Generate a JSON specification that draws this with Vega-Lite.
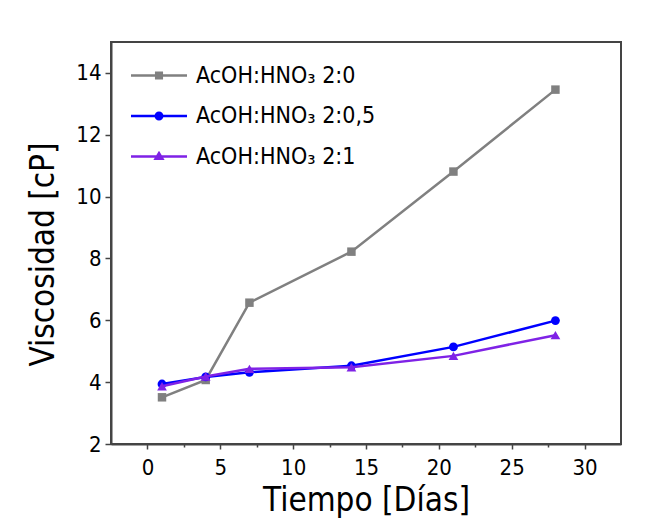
{
  "$schema": "https://vega.github.io/schema/vega-lite/v6.json",
  "width": 510,
  "height": 402,
  "autosize": {"type": "none"},
  "padding": {"left": 111, "top": 42, "right": 50, "bottom": 85},
  "background": "white",
  "config": {
    "font": "DejaVu Sans Condensed, Liberation Sans, sans-serif",
    "view": {"stroke": "#444444", "strokeWidth": 2},
    "axis": {
      "grid": false,
      "domainColor": "#444444",
      "domainWidth": 2,
      "tickColor": "#444444",
      "tickWidth": 1.5,
      "labelColor": "black",
      "titleColor": "black",
      "labelFontSize": 22,
      "titleFontSize": 33,
      "titleFontWeight": "normal",
      "labelFlush": false,
      "labelOverlap": false
    }
  },
  "data": {
    "values": [
      {"dia": 1, "visc": 3.51, "serie": "AcOH:HNO₃ 2:0"},
      {"dia": 4, "visc": 4.07, "serie": "AcOH:HNO₃ 2:0"},
      {"dia": 7, "visc": 6.57, "serie": "AcOH:HNO₃ 2:0"},
      {"dia": 14, "visc": 8.22, "serie": "AcOH:HNO₃ 2:0"},
      {"dia": 21, "visc": 10.81, "serie": "AcOH:HNO₃ 2:0"},
      {"dia": 28, "visc": 13.46, "serie": "AcOH:HNO₃ 2:0"},
      {"dia": 1, "visc": 3.94, "serie": "AcOH:HNO₃ 2:0,5"},
      {"dia": 4, "visc": 4.17, "serie": "AcOH:HNO₃ 2:0,5"},
      {"dia": 7, "visc": 4.32, "serie": "AcOH:HNO₃ 2:0,5"},
      {"dia": 14, "visc": 4.53, "serie": "AcOH:HNO₃ 2:0,5"},
      {"dia": 21, "visc": 5.14, "serie": "AcOH:HNO₃ 2:0,5"},
      {"dia": 28, "visc": 5.99, "serie": "AcOH:HNO₃ 2:0,5"},
      {"dia": 1, "visc": 3.87, "serie": "AcOH:HNO₃ 2:1"},
      {"dia": 4, "visc": 4.18, "serie": "AcOH:HNO₃ 2:1"},
      {"dia": 7, "visc": 4.43, "serie": "AcOH:HNO₃ 2:1"},
      {"dia": 14, "visc": 4.48, "serie": "AcOH:HNO₃ 2:1"},
      {"dia": 21, "visc": 4.85, "serie": "AcOH:HNO₃ 2:1"},
      {"dia": 28, "visc": 5.52, "serie": "AcOH:HNO₃ 2:1"}
    ]
  },
  "layer": [
    {
      "transform": [{"filter": "datum.serie === 'AcOH:HNO₃ 2:0'"}],
      "mark": {"type": "line", "color": "#808080", "strokeWidth": 2.5,
               "point": {"filled": true, "shape": "square", "size": 72, "color": "#808080", "opacity": 1}},
      "encoding": {
        "x": {"field": "dia", "type": "quantitative",
              "scale": {"domain": [-2.5, 32.5], "nice": false, "zero": false},
              "axis": {
                "values": [0, 2.5, 5, 7.5, 10, 12.5, 15, 17.5, 20, 22.5, 25, 27.5, 30],
                "format": "d",
                "labelExpr": "datum.value % 5 === 0 ? datum.label : ''",
                "labelOverlap": false,
                "tickSize": {"condition": {"test": "datum.value % 5 === 0", "value": 5}, "value": 3},
                "labelPadding": 8,
                "title": "Tiempo [Días]",
                "titleY": 66,
                "titleBaseline": "alphabetic"
              }},
        "y": {"field": "visc", "type": "quantitative",
              "scale": {"domain": [2, 15], "nice": false, "zero": false},
              "axis": {
                "values": [2, 3, 4, 5, 6, 7, 8, 9, 10, 11, 12, 13, 14, 15],
                "labelExpr": "datum.value % 2 === 0 ? datum.label : ''",
                "labelOverlap": false,
                "tickSize": {"condition": {"test": "datum.value % 2 === 0", "value": 6}, "value": 3},
                "labelPadding": 4,
                "title": "Viscosidad [cP]",
                "titleAngle": 270,
                "titleX": -58,
                "titleY": 212,
                "titleAlign": "center",
                "titleBaseline": "alphabetic"
              }}
      }
    },
    {
      "transform": [{"filter": "datum.serie === 'AcOH:HNO₃ 2:0,5'"}],
      "mark": {"type": "line", "color": "#0000ff", "strokeWidth": 2.5,
               "point": {"filled": true, "shape": "circle", "size": 78, "color": "#0000ff", "opacity": 1}},
      "encoding": {
        "x": {"field": "dia", "type": "quantitative", "scale": {"domain": [-2.5, 32.5], "nice": false, "zero": false}},
        "y": {"field": "visc", "type": "quantitative", "scale": {"domain": [2, 15], "nice": false, "zero": false}}
      }
    },
    {
      "transform": [{"filter": "datum.serie === 'AcOH:HNO₃ 2:1'"}],
      "mark": {"type": "line", "color": "#7f22e6", "strokeWidth": 2.5,
               "point": {"filled": true, "shape": "triangle-up", "size": 95, "color": "#7f22e6", "opacity": 1}},
      "encoding": {
        "x": {"field": "dia", "type": "quantitative", "scale": {"domain": [-2.5, 32.5], "nice": false, "zero": false}},
        "y": {"field": "visc", "type": "quantitative", "scale": {"domain": [2, 15], "nice": false, "zero": false}}
      }
    },
    {
      "transform": [{"filter": "false"}],
      "mark": {"type": "point", "filled": false, "strokeWidth": 2.5, "opacity": 1},
      "encoding": {
        "x": {"field": "dia", "type": "quantitative", "scale": {"domain": [-2.5, 32.5], "nice": false, "zero": false}},
        "y": {"field": "visc", "type": "quantitative", "scale": {"domain": [2, 15], "nice": false, "zero": false}},
        "color": {"field": "serie", "type": "nominal",
                  "scale": {"domain": ["AcOH:HNO₃ 2:0", "AcOH:HNO₃ 2:0,5", "AcOH:HNO₃ 2:1"],
                            "range": ["#808080", "#0000ff", "#7f22e6"]},
                  "legend": {"title": null, "orient": "none", "legendX": 36.5, "legendY": 22, "padding": 0,
                             "symbolSize": 64, "symbolStrokeWidth": 2.5, "symbolOpacity": 1,
                             "labelFontSize": 23, "labelOffset": 25.5, "rowPadding": 16.5, "labelLimit": 0,
                             "labelColor": "black", "labelBaseline": "middle"}},
        "shape": {"field": "serie", "type": "nominal",
                  "scale": {"domain": ["AcOH:HNO₃ 2:0", "AcOH:HNO₃ 2:0,5", "AcOH:HNO₃ 2:1"],
                            "range": [
                              "M-7,0H7M-0.7,-0.7H0.7V0.7H-0.7ZM-0.25,-0.25H0.25V0.25H-0.25Z",
                              "M-7,0H7M0.8,0A0.8,0.8,0,1,1,-0.8,0A0.8,0.8,0,1,1,0.8,0ZM0.25,0A0.25,0.25,0,1,1,-0.25,0A0.25,0.25,0,1,1,0.25,0Z",
                              "M-7,0H7M0,-0.85L0.85,0.55H-0.85ZM0,-0.25L0.25,0.2H-0.25Z"
                            ]},
                  "legend": {"title": null, "orient": "none", "legendX": 36.5, "legendY": 22, "padding": 0,
                             "symbolSize": 64, "symbolStrokeWidth": 2.5, "symbolOpacity": 1,
                             "labelFontSize": 23, "labelOffset": 25.5, "rowPadding": 16.5, "labelLimit": 0,
                             "labelColor": "black", "labelBaseline": "middle"}}
      }
    }
  ]
}
